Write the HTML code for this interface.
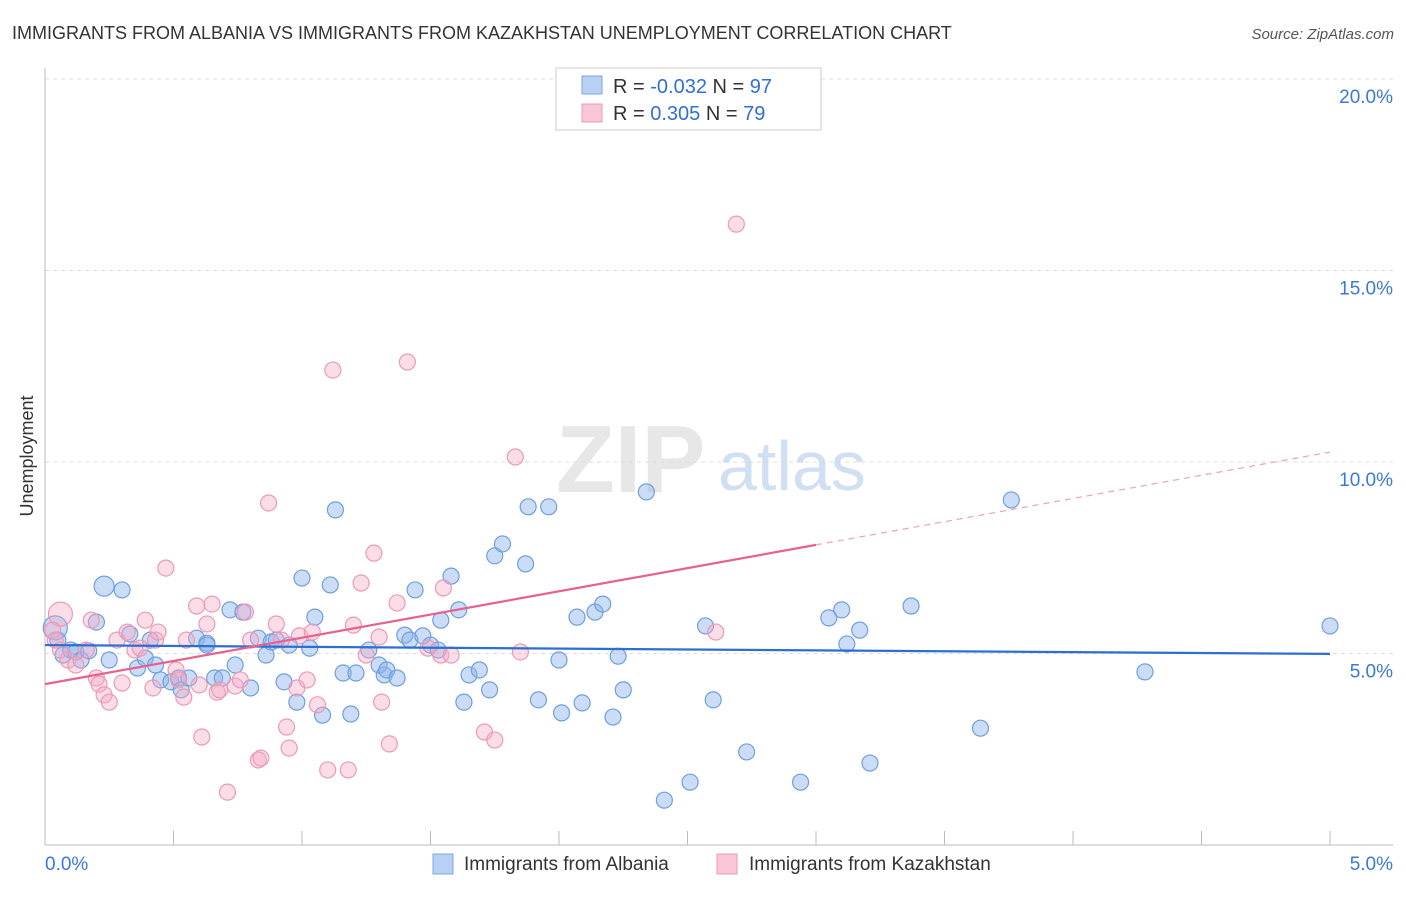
<!DOCTYPE html>
<html><head><meta charset="utf-8"><style>
body{margin:0;background:#fff;font-family:"Liberation Sans",sans-serif}
svg text{font-family:"Liberation Sans",sans-serif}
</style></head><body>
<svg id="chart" width="1406" height="892" xmlns="http://www.w3.org/2000/svg">
<text x="12" y="39" font-size="18" fill="#333">IMMIGRANTS FROM ALBANIA VS IMMIGRANTS FROM KAZAKHSTAN UNEMPLOYMENT CORRELATION CHART</text>
<text x="1394" y="39" font-size="15" fill="#555" font-style="italic" text-anchor="end">Source: ZipAtlas.com</text>
<text transform="translate(33,456) rotate(-90)" font-size="18" fill="#333" text-anchor="middle">Unemployment</text>
<g id="grid"></g>
<text x="556" y="492" font-size="96" fill="#ddd" font-family="Liberation Serif" font-weight="bold" opacity="0.7">ZIP</text>
<text x="718" y="490" font-size="70" fill="#c5d8ef" opacity="0.8">atlas</text>
<g id="marks"></g>
<g>
<rect x="556" y="68" width="265" height="62" fill="#fff" stroke="#ccc"/>
<rect x="582" y="76" width="20" height="18" fill="#b8d1f3" stroke="#7aa6e0"/>
<rect x="582" y="104" width="20" height="18" fill="#f9c6d6" stroke="#ec9bb6"/>
<text x="613" y="93" font-size="20" fill="#333">R = <tspan fill="#2f6fd6">-0.032</tspan>   N = <tspan fill="#2f6fd6">97</tspan></text>
<text x="613" y="120" font-size="20" fill="#333">R =  <tspan fill="#2f6fd6">0.305</tspan>   N = <tspan fill="#2f6fd6">79</tspan></text>
</g>
<g>
<rect x="433" y="854" width="20" height="20" fill="#b8d1f3" stroke="#7aa6e0"/>
<text x="464" y="870" font-size="19" fill="#333">Immigrants from Albania</text>
<rect x="717" y="854" width="20" height="20" fill="#f9c6d6" stroke="#ec9bb6"/>
<text x="749" y="870" font-size="19" fill="#333">Immigrants from Kazakhstan</text>
</g>
</svg>
<script>
const yTicks=[5,10,15,20];
const yTickLabels=["5.0%","10.0%","15.0%","20.0%"];
const xTickLabels=["0.0%","5.0%"];
const blueX=[0.04,0.05,0.07,0.10,0.12,0.14,0.17,0.20,0.23,0.25,0.30,0.33,0.36,0.39,0.41,0.43,0.45,0.49,0.52,0.53,0.56,0.59,0.63,0.63,0.66,0.69,0.72,0.74,0.77,0.80,0.83,0.86,0.88,0.90,0.93,0.95,0.98,1.00,1.03,1.05,1.08,1.11,1.13,1.16,1.19,1.21,1.26,1.30,1.32,1.33,1.37,1.40,1.42,1.44,1.47,1.50,1.53,1.54,1.58,1.61,1.63,1.65,1.69,1.73,1.75,1.78,1.87,1.88,1.92,1.96,2.00,2.01,2.07,2.09,2.14,2.17,2.21,2.23,2.25,2.34,2.41,2.51,2.57,2.60,2.73,2.94,3.05,3.10,3.12,3.17,3.21,3.37,3.64,3.76,4.28,5.00];
const blueY=[5.67,5.35,4.96,5.09,5.04,4.83,5.07,5.82,6.76,4.83,6.66,5.51,4.62,4.88,5.35,4.70,4.31,4.26,4.36,4.05,4.36,5.40,5.27,5.22,4.36,4.36,6.14,4.70,6.08,4.10,5.40,4.96,5.30,5.35,4.26,5.22,3.73,6.97,5.14,5.95,3.39,6.79,8.75,4.49,3.42,4.49,5.09,4.70,4.44,4.57,4.36,5.48,5.35,6.66,5.46,5.22,5.09,5.87,7.02,6.14,3.73,4.44,4.57,4.05,7.55,7.86,7.34,8.83,3.79,8.83,4.83,3.45,5.95,3.71,6.08,6.29,3.34,4.93,4.05,9.22,1.17,1.64,5.72,3.79,2.43,1.64,5.93,6.14,5.25,5.61,2.14,6.24,3.05,9.01,4.52,5.72];
const pinkX=[0.06,0.03,0.04,0.06,0.09,0.12,0.16,0.18,0.20,0.21,0.23,0.25,0.28,0.30,0.32,0.35,0.37,0.39,0.42,0.43,0.44,0.47,0.51,0.52,0.54,0.55,0.59,0.60,0.61,0.63,0.65,0.67,0.68,0.71,0.74,0.76,0.78,0.80,0.83,0.84,0.87,0.90,0.92,0.94,0.95,0.98,0.99,1.02,1.04,1.06,1.10,1.12,1.18,1.20,1.23,1.25,1.28,1.30,1.31,1.34,1.37,1.41,1.49,1.54,1.55,1.58,1.71,1.75,1.83,1.85,2.61,2.69];
const pinkY=[6.03,5.61,5.35,5.09,4.83,4.70,5.09,5.87,4.36,4.20,3.92,3.73,5.35,4.23,5.56,5.09,5.14,5.87,4.10,5.35,5.56,7.23,4.57,4.31,3.86,5.35,6.24,4.18,2.82,5.77,6.29,3.99,4.05,1.38,4.15,4.31,6.08,5.35,2.22,2.27,8.93,5.77,5.35,3.08,2.53,4.10,5.46,4.31,5.56,3.66,1.96,12.40,1.96,5.74,6.84,4.96,7.62,5.43,3.73,2.64,6.32,12.61,5.14,4.96,6.71,4.96,2.95,2.74,10.13,5.04,5.56,16.21];
const blueTrend=[5.22,4.99];
const pinkTrend=[4.20,10.26];
const NS="http://www.w3.org/2000/svg";
function xs(v){return 45+v*257;}
function ys(v){return 845-v*38.3;}
function mk(tag,attrs,parent){const e=document.createElementNS(NS,tag);for(const k in attrs)e.setAttribute(k,attrs[k]);parent.appendChild(e);return e;}
const grid=document.getElementById('grid');
yTicks.forEach((t,i)=>{
  const l=mk('line',{x1:45,x2:1393,y1:ys(t),y2:ys(t),stroke:'#ddd','stroke-dasharray':'4,4'},grid);
  
  
  const tx=mk('text',{x:1393,y:ys(t)+24,'font-size':19,fill:'#3b78d8','text-anchor':'end'},grid);
  tx.textContent=yTickLabels[i];
  
  
});
const ax=mk('line',{x1:45,x2:45,y1:68,y2:845,stroke:'#bbb'},grid);


const bx=mk('line',{x1:45,x2:1393,y1:845,y2:845,stroke:'#bbb'},grid);


for(let i=0;i<=10;i++){
  const t=mk('line',{x1:xs(i*0.5),x2:xs(i*0.5),y1:831,y2:845,stroke:'#bbb'},grid);
  
  
}
[0,5].forEach((v,i)=>{
  const t=mk('text',{x:i==0?45:1393,y:870,'font-size':19,fill:'#3b78d8','text-anchor':i==0?'start':'end'},grid);
  t.textContent=xTickLabels[i];
  
  
});
const marks=document.getElementById('marks');
blueX.forEach((x,i)=>{
  const c=mk('circle',{cx:xs(x),cy:ys(blueY[i]),r:(i==0?12:(i==8?10:8)),fill:'rgba(140,180,235,0.45)',stroke:'#6f9fdc','stroke-width':1.2},marks);
  
  
});
pinkX.forEach((x,i)=>{
  const c=mk('circle',{cx:xs(x),cy:ys(pinkY[i]),r:(i==0?12:8),fill:'rgba(246,170,198,0.4)',stroke:'#eb9ab6','stroke-width':1.2},marks);
  
  
});
const bl=mk('line',{x1:xs(0),y1:ys(blueTrend[0]),x2:xs(5),y2:ys(blueTrend[1]),stroke:'#2a6fd4','stroke-width':2.2},marks);


const pm=pinkTrend[0]+(pinkTrend[1]-pinkTrend[0])*0.6;
const pl=mk('line',{x1:xs(0),y1:ys(pinkTrend[0]),x2:xs(3),y2:ys(pm),stroke:'#e5628f','stroke-width':2.2},marks);


const pd=mk('line',{x1:xs(3),y1:ys(pm),x2:xs(5),y2:ys(pinkTrend[1]),stroke:'#eba1bb','stroke-width':1.2,'stroke-dasharray':'6,5'},marks);


</script>
</body></html>
